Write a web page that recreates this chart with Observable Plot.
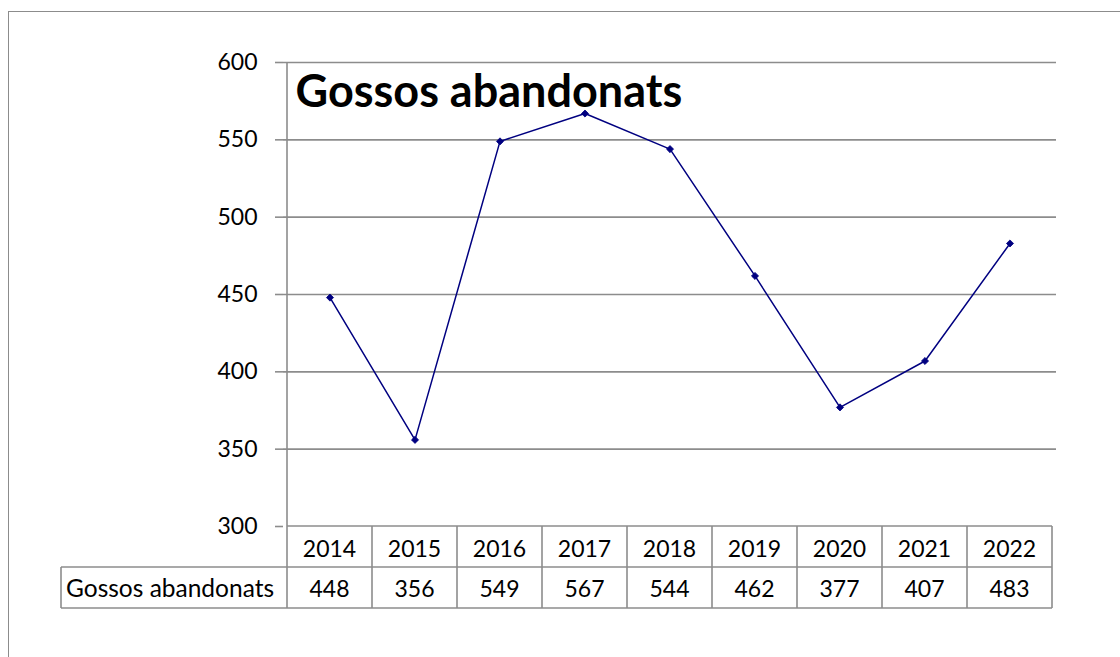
<!DOCTYPE html>
<html>
<head>
<meta charset="utf-8">
<script src="https://cdn.jsdelivr.net/npm/d3@7"></script>
<script src="https://cdn.jsdelivr.net/npm/@observablehq/plot@0.6"></script>
<style>
  html, body { margin: 0; padding: 0; background: #fff; }
  #wrap { position: relative; width: 1120px; height: 657px; overflow: hidden; }
  #border { position: absolute; left: 8px; top: 11px; width: 1200px; height: 800px;
            border-left: 1.5px solid #8c8c8c; border-top: 1.5px solid #8c8c8c; box-sizing: border-box; }
  svg { position: absolute; left: 0; top: 0; }
</style>
</head>
<body>
<div id="wrap"><div id="border"></div></div>
<script>
const years = ["2014","2015","2016","2017","2018","2019","2020","2021","2022"];
const values = [448, 356, 549, 567, 544, 462, 377, 407, 483];
const yTicks = [300, 350, 400, 450, 500, 550, 600];
const seriesName = "Gossos abandonats";
const title = "Gossos abandonats";

const data = years.map((yr, i) => ({year: yr, value: values[i]}));
const FONT = "Lato, 'Noto Sans', sans-serif";
const GRID = "#8c8c8c";

function tableMark(index, scales, values_, dims) {
  const {x, y} = scales;
  const bw = x.bandwidth();
  const left = x(years[0]);
  const right = x(years[years.length - 1]) + bw;
  const top = y(yTicks[0]);
  const rowH = 41;
  const r1 = top + rowH, r2 = r1 + rowH;
  const labelLeft = 61;
  const g = d3.create("svg:g");
  const line = (x1, y1, x2, y2) => g.append("line")
    .attr("x1", x1).attr("y1", y1).attr("x2", x2).attr("y2", y2)
    .attr("stroke", GRID).attr("stroke-width", 1.6);
  // vertical axis line through chart and table
  line(left, y(yTicks[yTicks.length - 1]), left, r2);
  // horizontal table lines
  line(left, top, right, top);
  line(labelLeft, r1, right, r1);
  line(labelLeft, r2, right, r2);
  line(labelLeft, r1, labelLeft, r2);
  years.forEach((yr, i) => {
    const xr = x(yr) + bw;
    line(xr, top, xr, r2);
    g.append("text").attr("x", x(yr) + bw / 2).attr("y", top + rowH / 2 + 1)
      .attr("text-anchor", "middle").attr("dominant-baseline", "central")
      .attr("font-family", FONT).attr("font-size", 23).attr("fill", "#000").text(yr);
    g.append("text").attr("x", x(yr) + bw / 2).attr("y", r1 + rowH / 2)
      .attr("text-anchor", "middle").attr("dominant-baseline", "central")
      .attr("font-family", FONT).attr("font-size", 23).attr("fill", "#000").text(values[i]);
  });
  g.append("text").attr("x", labelLeft + 5).attr("y", r1 + rowH / 2)
    .attr("text-anchor", "start").attr("dominant-baseline", "central")
    .attr("font-family", FONT).attr("font-size", 24.5).attr("fill", "#000").text(seriesName);
  return g.node();
}

const chart = Plot.plot({
  width: 1120,
  height: 657,
  marginLeft: 283,
  marginRight: 64,
  marginTop: 62,
  marginBottom: 131,
  style: {fontFamily: FONT, background: "transparent", overflow: "visible"},
  x: {type: "band", domain: years, paddingInner: 0, paddingOuter: 0, axis: null},
  y: {domain: [300, 600]},
  marks: [
    Plot.ruleY(yTicks.slice(1), {stroke: GRID, strokeWidth: 1.6}),
    Plot.axisY({ticks: yTicks, tickSize: 8, tickPadding: 18, fontSize: 23, stroke: GRID, strokeWidth: 1.6, strokeOpacity: 1, color: "#000", label: null, tickFormat: d => String(d)}),
    tableMark,
    Plot.text([title], {frameAnchor: "top-left", dx: 12, dy: 13, lineAnchor: "top", textAnchor: "start", fontSize: 45, fontWeight: "bold", fill: "#000"}),
    Plot.line(data, {x: "year", y: "value", stroke: "#000080", strokeWidth: 1.5}),
    Plot.dot(data, {x: "year", y: "value", symbol: "diamond2", r: 3.2, fill: "#000080", stroke: "#000080", strokeWidth: 0.8})
  ]
});
document.getElementById("wrap").appendChild(chart);
</script>
</body>
</html>
